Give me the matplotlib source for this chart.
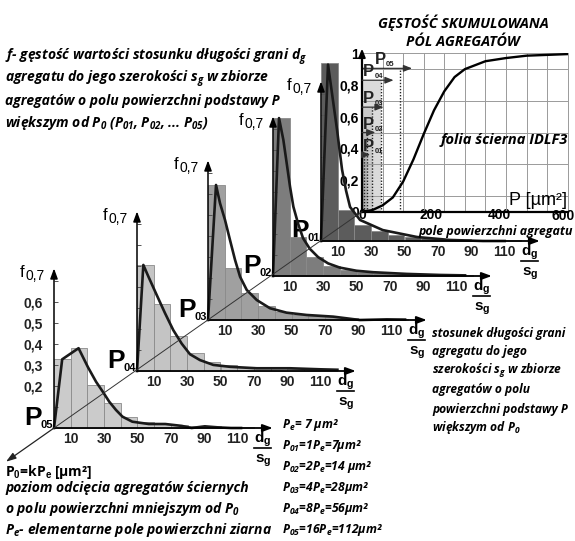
import matplotlib
matplotlib.use("Agg")
import matplotlib.pyplot as plt
from matplotlib.transforms import offset_copy
import numpy as np

plt.rcParams['mathtext.fontset'] = 'custom'
plt.rcParams['mathtext.rm'] = 'Open Sans:italic:bold'
plt.rcParams['mathtext.it'] = 'Open Sans:italic:bold'
plt.rcParams['mathtext.bf'] = 'Open Sans:italic:bold'
plt.rcParams['mathtext.sf'] = 'Liberation Sans:bold'

# ---------------- data ----------------
bin_left = [0, 10, 20, 30, 40, 50, 60, 70, 80, 90, 100, 110]
xtick_vals = [10, 30, 50, 70, 90, 110]
xtick_labels = ["10", "30", "50", "70", "90", "110"]
ytick_vals_P05 = [0.2, 0.3, 0.4, 0.5, 0.6]
ytick_labels_P05 = ["0,2", "0,3", "0,4", "0,5", "0,6"]
panel_names = ["01", "02", "03", "04", "05"]

hist_P01 = [0.85, 0.15, 0.076, 0.05, 0.03, 0.02, 0.015, 0.01, 0.008, 0.005, 0.004, 0.003]
hist_P02 = [0.752, 0.186, 0.09, 0.05, 0.03, 0.02, 0.015, 0.01, 0.008, 0.005, 0.004, 0.003]
hist_P03 = [0.643, 0.25, 0.13, 0.065, 0.04, 0.025, 0.018, 0.012, 0.008, 0.006, 0.004, 0.003]
hist_P04 = [0.505, 0.32, 0.167, 0.086, 0.045, 0.03, 0.02, 0.015, 0.012, 0.01, 0.008, 0.006]
hist_P05 = [0.327, 0.38, 0.205, 0.118, 0.054, 0.028, 0.02, 0.015, 0.01, 0.008, 0.006, 0.004]

curve_x_P01 = [0, 4.2, 9.6, 12.6, 15, 17.4, 23.4, 37, 57.5, 77, 97, 110]
curve_f_P01 = [0, 0.84, 0.53, 0.34, 0.24, 0.162, 0.1, 0.052, 0.019, 0.005, 0.0, 0.0]
curve_x_P02 = [0, 3.6, 6.2, 8.2, 10.2, 12.2, 15, 18, 22, 27, 33, 40, 50, 60, 80, 100, 115]
curve_f_P02 = [0, 0.752, 0.648, 0.537, 0.425, 0.33, 0.25, 0.18, 0.13, 0.09, 0.06, 0.04, 0.025, 0.018, 0.01, 0.005, 0.003]
curve_x_P03 = [0, 4.8, 7.2, 10.2, 13.2, 16.2, 19.2, 23.2, 29.2, 37.1, 47, 59, 75, 91, 107, 118]
curve_f_P03 = [0, 0.643, 0.556, 0.476, 0.38, 0.286, 0.206, 0.143, 0.095, 0.056, 0.035, 0.024, 0.016, 0.0, 0.003, 0.002]
curve_x_P04 = [0, 3.8, 6.8, 11.8, 16.8, 21.7, 26.8, 31.7, 37.7, 45.7, 55.7, 71.7, 91.6, 110, 120]
curve_f_P04 = [0, 0.505, 0.45, 0.362, 0.275, 0.195, 0.13, 0.08, 0.052, 0.029, 0.02, 0.013, 0.013, 0.008, 0.006]
curve_x_P05 = [0, 4.9, 14.7, 20.3, 25.2, 29.2, 33.1, 37.1, 41.0, 46.9, 56.8, 66.6, 76.5, 82.4, 90.3, 98.2, 106, 112]
curve_f_P05 = [0, 0.327, 0.38, 0.29, 0.22, 0.173, 0.125, 0.086, 0.054, 0.03, 0.019, 0.019, 0.01, 0.0, 0.008, 0.003, 0.0, 0.0]

hists = [hist_P01, hist_P02, hist_P03, hist_P04, hist_P05]
curves_x = [curve_x_P01, curve_x_P02, curve_x_P03, curve_x_P04, curve_x_P05]
curves_f = [curve_f_P01, curve_f_P02, curve_f_P03, curve_f_P04, curve_f_P05]

# cumulative density of aggregate areas
P_cum = [0, 30, 60, 90, 120, 150, 180, 210, 240, 270, 300, 360, 420, 480, 540, 600]
F_cum = [0, 0.01, 0.04, 0.09, 0.19, 0.33, 0.49, 0.64, 0.76, 0.85, 0.9, 0.95, 0.97, 0.985, 0.99, 0.995]
Po_values = [7, 14, 28, 56, 112]
Po_levels = [0.36, 0.5, 0.66, 0.83, 0.905]
Po_arrow_end = [24, 39, 63, 92, 146]
cum_xticks = [0, 200, 400, 600]
cum_yticks = [0, 0.2, 0.4, 0.6, 0.8, 1.0]
cum_ylabels = ["0", "0,2", "0,4", "0,6", "0,8", "1"]

# ---------------- layout ----------------
W, H = 575, 541
fig = plt.figure(figsize=(W / 100, H / 100), dpi=100)
SX, SY = 1.67, 210.0
XMAX, YMAX = 140, 0.95
AX_X_END, AX_Y_END = 131, 0.76
origins = [(321, 241), (273, 276), (208, 320), (137, 371), (54, 428)]
bar_colors = ['#5c5c5c', '#7d7d7d', '#a0a0a0', '#c4c4c4', '#cbcbcb']
NUM = 'Liberation Sans'
IT = dict(family='Open Sans', style='italic', weight='bold')

# ---- cumulative inset ----
cx0, cy0, cx1, cy1 = 362, 211.7, 567.7, 53.3
axc = fig.add_axes([cx0 / W, 1 - cy0 / H, (cx1 - cx0) / W, (cy0 - cy1) / H])
axc.set_xlim(0, 600)
axc.set_ylim(0, 1)
axc.set_xticks(np.arange(0, 601, 60), minor=True)
axc.set_yticks(np.arange(0, 1.01, 0.1), minor=True)
axc.grid(which='minor', color='#9a9a9a', lw=0.7)
axc.set_xticks(cum_xticks)
axc.set_xticklabels([str(v) if v < 600 else '' for v in cum_xticks], fontfamily=NUM, fontsize=10,
                    fontweight='bold')
axc.annotate(str(cum_xticks[-1]), xy=(cum_xticks[-1], 0), xytext=(-5, 3), textcoords='offset pixels',
             ha='center', va='top', fontfamily=NUM, fontsize=10, fontweight='bold', annotation_clip=False)
axc.set_yticks(cum_yticks)
axc.set_yticklabels(cum_ylabels, fontfamily=NUM, fontsize=10, fontweight='bold')
axc.tick_params(which='both', length=0)
axc.tick_params(axis='x', pad=-3)
axc.tick_params(axis='y', pad=2)
for s in ['top', 'right']:
    axc.spines[s].set_color('#9a9a9a'); axc.spines[s].set_linewidth(0.7)
for s in ['left', 'bottom']:
    axc.spines[s].set_color('k'); axc.spines[s].set_linewidth(1.6)
shade_cols = ['#9c9c9c', '#b4b4b4', '#c9c9c9', '#dadada']
for k in [3, 2, 1, 0]:
    axc.bar(0, Po_levels[k], width=Po_values[k], align='edge', color=shade_cols[k], lw=0, zorder=1.5)
axc.vlines(Po_values, 0, Po_levels, colors='#222', linestyles=(0, (1, 1.2)), lw=1.0, zorder=2)
for k in range(5):
    axc.annotate('', xy=(Po_arrow_end[k], Po_levels[k]), xytext=(0, Po_levels[k]),
                 arrowprops=dict(arrowstyle='-|>,head_length=0.5,head_width=0.2', color='#333', lw=0.9,
                                 shrinkA=0, shrinkB=0), zorder=3)
    lx = 38 if k == 4 else 4
    axc.annotate('P', xy=(lx, Po_levels[k]), xytext=(0, 1), textcoords='offset pixels',
                 ha='left', va='bottom', fontfamily=NUM, fontweight='bold', fontsize=12, color='#222', zorder=4)
    axc.annotate(panel_names[k], xy=(lx, Po_levels[k]), xytext=(11, 0), textcoords='offset pixels',
                 ha='left', va='bottom', fontfamily=NUM, fontweight='bold', fontsize=5.5, color='#222', zorder=4)
axc.plot(P_cum, F_cum, color='k', lw=1.7, zorder=5)
axc.annotate('', xy=(0, 1.03), xytext=(0, 0.9),
             arrowprops=dict(arrowstyle='-|>,head_length=0.5,head_width=0.2', color='k', lw=1.4,
                             shrinkA=0, shrinkB=0), annotation_clip=False)
axc.text(598, 0.02, 'P [µm²]', ha='right', va='bottom', fontfamily=NUM, fontsize=13, zorder=6)
folia = axc.text(228, 0.45, 'folia ścierna IDLF3', ha='left', va='center', fontsize=11, zorder=6, **IT)

# ---- panels (back to front) ----
for i in range(5):
    ox, oy = origins[i]
    ax = fig.add_axes([ox / W, 1 - oy / H, XMAX * SX / W, YMAX * SY / H])
    ax.set_xlim(0, XMAX)
    ax.set_ylim(0, YMAX)
    ax.patch.set_alpha(0)
    for s in ax.spines.values():
        s.set_visible(False)
    ax.bar(bin_left, hists[i], width=10, align='edge', color=bar_colors[i],
           edgecolor='#8a8a8a', linewidth=0.6, zorder=1, clip_on=False)
    ax.plot(curves_x[i], curves_f[i], color='#1a1a1a', lw=1.9, zorder=4, clip_on=False,
            solid_joinstyle='round')
    ax.annotate('', xy=(AX_X_END, 0), xytext=(0, 0),
                arrowprops=dict(arrowstyle='-|>,head_length=0.6,head_width=0.22', color='k', lw=1.3,
                                shrinkA=0, shrinkB=0), annotation_clip=False, zorder=5)
    ax.annotate('', xy=(0, AX_Y_END), xytext=(0, 0),
                arrowprops=dict(arrowstyle='-|>,head_length=0.6,head_width=0.22', color='k', lw=1.1,
                                shrinkA=0, shrinkB=0), annotation_clip=False, zorder=5)
    ax.set_xticks(xtick_vals)
    ax.set_xticklabels(xtick_labels, fontfamily=NUM, fontsize=10, fontweight='bold', color='#222')
    ax.tick_params(axis='x', length=0, pad=3)
    ax.set_yticks(np.arange(0.1, 0.71, 0.1))
    if i == 4:
        lab = [''] * 7
        for v, t in zip(ytick_vals_P05, ytick_labels_P05):
            lab[int(round(v * 10)) - 1] = t
        ax.set_yticklabels(lab, fontfamily=NUM, fontsize=10, fontweight='bold', color='#222')
    else:
        ax.set_yticklabels([''] * 7)
    ax.tick_params(axis='y', direction='in', length=3, width=0.7, color='#555', pad=8)
    # f label
    ax.annotate('0,7', xy=(0, AX_Y_END), xytext=(-9, -8), textcoords='offset pixels',
                ha='right', va='center', fontfamily=NUM, fontsize=10, annotation_clip=False)
    ax.annotate('f', xy=(0, AX_Y_END), xytext=(-30, -4), textcoords='offset pixels',
                ha='right', va='center', fontfamily=NUM, fontsize=12, annotation_clip=False)
    # P label
    ax.annotate('P', xy=(0, 0), xytext=(-12, 3), textcoords='offset pixels', ha='right', va='baseline',
                fontfamily=NUM, fontweight='bold', fontsize=19, annotation_clip=False)
    ax.annotate(panel_names[i], xy=(0, 0), xytext=(-1, 0), textcoords='offset pixels', ha='right',
                va='baseline', fontfamily=NUM, fontweight='bold', fontsize=8, annotation_clip=False)
    # dg / sg fraction
    ax.annotate(r'$\mathsf{d_g}$', xy=(125, 0), xytext=(0, -15), textcoords='offset pixels',
                ha='center', va='baseline', fontsize=11, annotation_clip=False)
    ax.annotate(r'$\mathsf{s_g}$', xy=(125, 0), xytext=(0, -35), textcoords='offset pixels',
                ha='center', va='baseline', fontsize=11, annotation_clip=False)
    tr = offset_copy(ax.transData, fig=fig, x=0, y=-20, units='dots')
    ax.plot([120, 130], [0, 0], color='k', lw=1.2, transform=tr, clip_on=False)

# ---- overlay: diagonal and texts ----
ov = fig.add_axes([0, 0, 1, 1])
ov.set_xlim(0, W)
ov.set_ylim(H, 0)
ov.axis('off')
ov.patch.set_alpha(0)
ex, ey = origins[4]
slope = (cy0 - ey) / (cx0 - ex)
ov.plot([ex, cx0], [ey, cy0], color='#333', lw=0.7, zorder=1)
ov.annotate('', xy=(6, ey + slope * (6 - ex)), xytext=(ex, ey),
            arrowprops=dict(arrowstyle='-|>,head_length=0.6,head_width=0.2', color='#222', lw=0.9,
                            shrinkA=0, shrinkB=0))

renderer = fig.canvas.get_renderer()


def block(lines, x, ys, ref, target_w, ha='left', size=11, **kw):
    ts = [ov.text(x, y, s, ha=ha, va='center', fontsize=size, **kw) for s, y in zip(lines, ys)]
    w = ts[ref].get_window_extent(renderer).width
    for t in ts:
        t.set_fontsize(size * target_w / w)
    return ts


top_lines = ["f- gęstość wartości stosunku długości grani d$_g$",
             "agregatu do jego szerokości s$_g$ w zbiorze",
             "agregatów o polu powierzchni podstawy P",
             "większym od P$_0$ (P$_{01}$, P$_{02}$, ... P$_{05}$)"]
block(top_lines, 5, [57, 79, 101, 123], 0, 302, **IT)

bl_lines = ["poziom odcięcia agregatów ściernych",
            "o polu powierzchni mniejszym od P$_0$",
            "P$_e$- elementarne pole powierzchni ziarna"]
block(bl_lines, 5, [488, 509, 530], 0, 243, **IT)
block(["P$_\\mathsf{0}$=kP$_\\mathsf{e}$ [µm²]"], 5, [472], 0, 87,
      family='Open Sans', weight='bold')

rm_lines = ["stosunek długości grani", "agregatu do jego", "szerokości s$_g$ w zbiorze",
            "agregatów o polu", "powierzchni podstawy P", "większym od P$_0$"]
block(rm_lines, 432, [333, 352, 371, 390, 409, 428], 4, 136, **IT)

rl_lines = ["P$_e$= 7 µm²", "P$_{01}$=1P$_e$=7µm²", "P$_{02}$=2P$_e$=14 µm²",
            "P$_{03}$=4P$_e$=28µm²", "P$_{04}$=8P$_e$=56µm²", "P$_{05}$=16P$_e$=112µm²"]
block(rl_lines, 282, [425, 446, 467, 488, 509, 530], 5, 100, **IT)

block(["GĘSTOŚĆ SKUMULOWANA", "PÓL AGREGATÓW"], 463, [23, 42], 0, 171, ha='center', **IT)
block(["pole powierzchni agregatu"], 418, [231], 0, 155, **IT)

w = folia.get_window_extent(renderer).width
folia.set_fontsize(11 * 127 / w)

fig.savefig('out.png', dpi=100)
